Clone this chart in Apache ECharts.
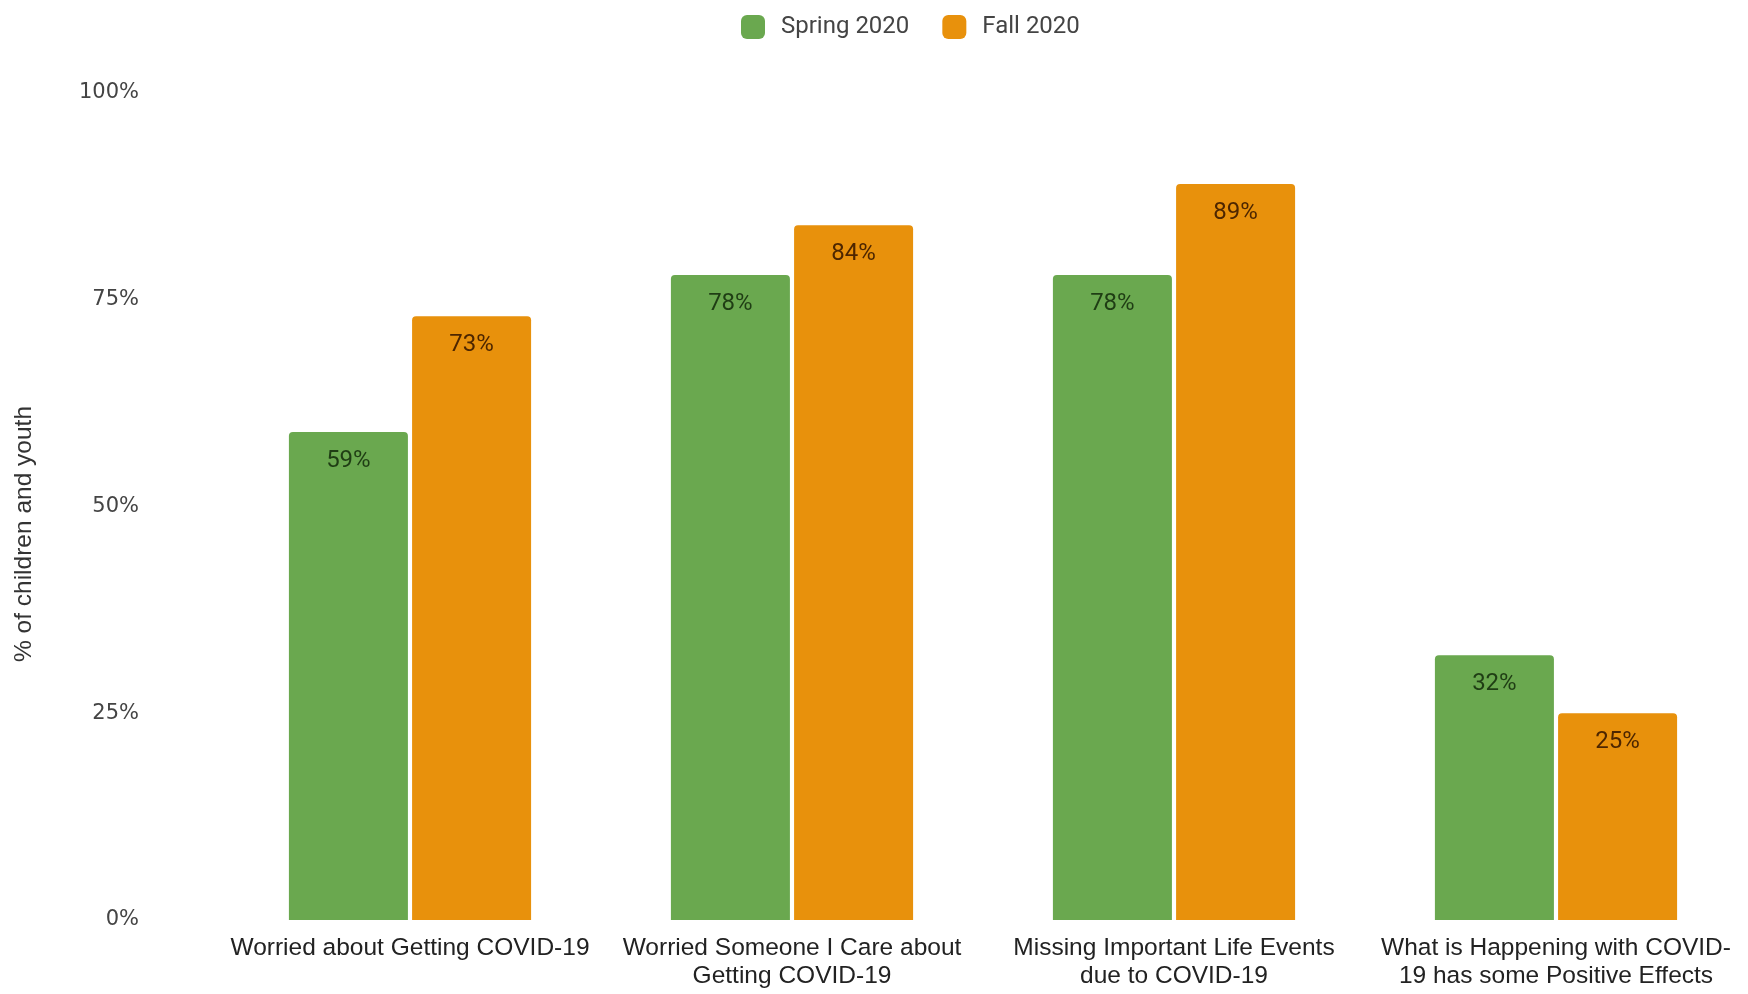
<!DOCTYPE html>
<html>
<head>
<meta charset="utf-8">
<title>Children and youth COVID-19 worries</title>
<script src="https://cdn.jsdelivr.net/npm/echarts@6/dist/echarts.min.js"></script>
<style>
  html, body { margin: 0; padding: 0; background: #ffffff; }
  #chart { width: 1748px; height: 994px; }
</style>
</head>
<body>
<div id="chart"></div>
<script>
// Survey items shown along the x axis
const categories = [
  'Worried about Getting COVID-19',
  'Worried Someone I Care about\nGetting COVID-19',
  'Missing Important Life Events\ndue to COVID-19',
  'What is Happening with COVID-\n19 has some Positive Effects'
];
// Share of children and youth (%) per survey wave
const spring2020 = [59, 78, 78, 32];
const fall2020 = [73, 84, 89, 25];
// Value axis ticks
const yTicks = [0, 25, 50, 75, 100];

const GREEN = '#6aa84f';
const ORANGE = '#e8910c';

const chart = echarts.init(document.getElementById('chart'), null, { renderer: 'canvas' });

function barLabel(color) {
  return {
    show: true,
    position: 'insideTop',
    distance: 17,
    formatter: p => p.value + '%',
    color: color,
    fontFamily: 'Roboto',
    fontSize: 24
  };
}

chart.setOption({
  animation: false,
  backgroundColor: '#ffffff',
  legend: {
    left: 736,
    top: 10,
    itemWidth: 24,
    itemHeight: 24,
    itemGap: 33,
    icon: 'roundRect',
    textStyle: {
      fontFamily: 'Roboto',
      fontSize: 24,
      color: '#444444',
      padding: [0, 0, 0, 11]
    },
    data: ['Spring 2020', 'Fall 2020']
  },
  grid: {
    left: 219,
    right: 1,
    top: 93,
    bottom: 74,
    containLabel: false
  },
  xAxis: {
    type: 'category',
    data: categories,
    axisLine: { show: false },
    axisTick: { show: false },
    axisLabel: {
      interval: 0,
      margin: 14,
      fontFamily: 'Liberation Sans',
      fontSize: 24.5,
      lineHeight: 28,
      color: '#222222'
    }
  },
  yAxis: {
    type: 'value',
    min: yTicks[0],
    max: yTicks[yTicks.length - 1],
    interval: yTicks[1] - yTicks[0],
    name: '% of children and youth',
    nameLocation: 'middle',
    nameRotate: 90,
    nameGap: 182,
    nameTextStyle: {
      fontFamily: 'Liberation Sans',
      fontSize: 24.5,
      color: '#333333',
      padding: [0, 55, 0, 0]
    },
    axisLine: { show: false },
    axisTick: { show: false },
    splitLine: { show: false },
    axisLabel: {
      margin: 80,
      formatter: v => v + '%',
      fontFamily: 'DejaVu Sans',
      fontSize: 21,
      color: '#444444'
    }
  },
  series: [
    {
      name: 'Spring 2020',
      type: 'bar',
      data: spring2020,
      barGap: '3.5%',
      barCategoryGap: '36.6%',
      itemStyle: { color: GREEN, borderRadius: [4, 4, 0, 0] },
      label: barLabel('#1f3d14')
    },
    {
      name: 'Fall 2020',
      type: 'bar',
      data: fall2020,
      barGap: '3.5%',
      barCategoryGap: '36.6%',
      itemStyle: { color: ORANGE, borderRadius: [4, 4, 0, 0] },
      label: barLabel('#4d2600')
    }
  ]
});
</script>
</body>
</html>
